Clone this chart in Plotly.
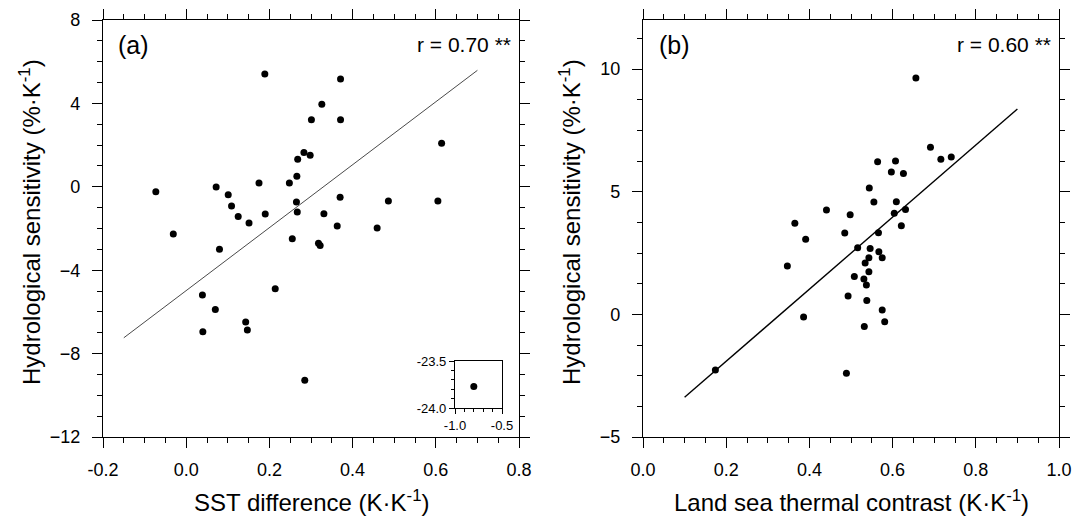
import numpy as np
import plotly.graph_objects as go

# ---------------- data ----------------
# Panel (a): SST difference vs hydrological sensitivity
sst_diff = [0.189, 0.371, 0.326, 0.301, 0.371, 0.614, 0.283, 0.298, 0.268, 0.266,
            -0.073, 0.072, 0.101, 0.175, 0.248, 0.109, 0.125, 0.151, 0.190, 0.265,
            0.267, 0.370, 0.331, 0.363, 0.486, 0.605, 0.459, -0.031, 0.255, 0.318,
            0.322, 0.080, 0.214, 0.039, 0.070, 0.143, 0.040, 0.147, 0.285]
hs_a = [5.41, 5.17, 3.96, 3.22, 3.22, 2.09, 1.65, 1.51, 1.32, 0.51,
        -0.24, -0.01, -0.38, 0.18, 0.18, -0.92, -1.43, -1.74, -1.30, -0.73,
        -1.21, -0.50, -1.29, -1.88, -0.68, -0.68, -1.98, -2.26, -2.49, -2.71,
        -2.82, -3.00, -4.89, -5.19, -5.88, -6.48, -6.95, -6.87, -9.28]
# outlier shown in the inset of panel (a)
outlier_sst = [-0.80]
outlier_hs = [-23.77]

# Panel (b): land sea thermal contrast vs hydrological sensitivity
lstc = [0.656, 0.691, 0.716, 0.741, 0.564, 0.607, 0.597, 0.626, 0.544, 0.555,
        0.609, 0.441, 0.498, 0.604, 0.631, 0.365, 0.485, 0.566, 0.621, 0.391,
        0.516, 0.546, 0.567, 0.543, 0.575, 0.534, 0.347, 0.543, 0.508, 0.531,
        0.537, 0.493, 0.538, 0.575, 0.386, 0.581, 0.532, 0.174, 0.489]
hs_b = [9.64, 6.81, 6.32, 6.41, 6.22, 6.25, 5.80, 5.74, 5.15, 4.58,
        4.59, 4.25, 4.06, 4.12, 4.27, 3.71, 3.32, 3.33, 3.61, 3.06,
        2.72, 2.68, 2.55, 2.31, 2.31, 2.09, 1.97, 1.74, 1.54, 1.44,
        1.20, 0.75, 0.56, 0.18, -0.11, -0.30, -0.50, -2.27, -2.40]

fit_x_a = [-0.15, 0.70]
fit_x_b = [0.10, 0.90]
r_text_a = "r = 0.70 **"
r_text_b = "r = 0.60 **"
panel_a = "(a)"
panel_b = "(b)"

xticks_a = [-0.2, 0.0, 0.2, 0.4, 0.6, 0.8]
xlabels_a = ["-0.2", "0.0", "0.2", "0.4", "0.6", "0.8"]
yticks_a = [-12, -8, -4, 0, 4, 8]
xticks_b = [0.0, 0.2, 0.4, 0.6, 0.8, 1.0]
xlabels_b = ["0.0", "0.2", "0.4", "0.6", "0.8", "1.0"]
yticks_b = [-5, 0, 5, 10]
xticks_in = [-1.0, -0.5]
xlabels_in = ["-1.0", "-0.5"]
yticks_in = [-24.0, -23.5]
ylabels_in = ["-24.0", "-23.5"]

xtitle_a = "SST difference (K·K<sup>-1</sup>)"
xtitle_b = "Land sea thermal contrast (K·K<sup>-1</sup>)"
ytitle = "Hydrological sensitivity (%·K<sup>-1</sup>)"

# regression lines (computed from the data)
coef_a = np.polyfit(np.array(sst_diff + outlier_sst), np.array(hs_a + outlier_hs), 1)
coef_b = np.polyfit(np.array(lstc), np.array(hs_b), 1)
fit_y_a = list(np.polyval(coef_a, fit_x_a))
fit_y_b = list(np.polyval(coef_b, fit_x_b))

# ---------------- figure ----------------
# the page body has an 8 px margin, so the figure is 8 px smaller and
# all screen positions below are given in window pixels
OFF = 8
W, H = 1084 - OFF, 516 - OFF
FONT = "Liberation Sans, Arial, Helvetica, sans-serif"

def px(x):
    return (x - OFF) / W

def py(y):
    return 1 - (y - OFF) / H

fig = go.Figure()
mk = dict(color="black", size=7)
fig.add_trace(go.Scatter(x=sst_diff, y=hs_a, mode="markers", marker=mk,
                         xaxis="x", yaxis="y", showlegend=False))
fig.add_trace(go.Scatter(x=fit_x_a, y=fit_y_a, mode="lines",
                         line=dict(color="#4a4a4a", width=1),
                         xaxis="x", yaxis="y", showlegend=False))
fig.add_trace(go.Scatter(x=lstc, y=hs_b, mode="markers", marker=mk,
                         xaxis="x2", yaxis="y2", showlegend=False))
fig.add_trace(go.Scatter(x=fit_x_b, y=fit_y_b, mode="lines",
                         line=dict(color="black", width=1.4),
                         xaxis="x2", yaxis="y2", showlegend=False))
fig.add_trace(go.Scatter(x=outlier_sst, y=outlier_hs, mode="markers", marker=mk,
                         xaxis="x3", yaxis="y3", showlegend=False))

tickfont = dict(family=FONT, size=18, color="black")
common = dict(showline=True, linecolor="black", linewidth=1.2, mirror="ticks",
              ticks="outside", ticklen=10, tickwidth=1.2, tickcolor="black",
              showgrid=False, zeroline=False, tickfont=tickfont, automargin=False)

inset_font = dict(family=FONT, size=13, color="black")
dom_y = [py(437), py(20)]
fig.update_layout(
    width=W, height=H, autosize=False,
    margin=dict(l=0, r=0, t=0, b=0, pad=0, autoexpand=False),
    paper_bgcolor="white", plot_bgcolor="white",
    font=dict(family=FONT, color="black"),
    xaxis=dict(domain=[px(103), px(519)], range=[-0.2, 0.8], anchor="y",
               tickvals=xticks_a, ticktext=xlabels_a, ticklabelstandoff=6,
               minor=dict(dtick=0.05, tick0=0, ticklen=5, ticks="outside",
                          tickwidth=1, tickcolor="black"), **common),
    yaxis=dict(domain=dom_y, range=[-12, 8], anchor="x",
               tickvals=yticks_a, ticklabelstandoff=8,
               minor=dict(dtick=1, tick0=0, ticklen=5, ticks="outside",
                          tickwidth=1, tickcolor="black"), **common),
    xaxis2=dict(domain=[px(643), px(1059)], range=[0, 1.0], anchor="y2",
                tickvals=xticks_b, ticktext=xlabels_b, ticklabelstandoff=6,
                minor=dict(dtick=0.05, tick0=0, ticklen=5, ticks="outside",
                           tickwidth=1, tickcolor="black"), **common),
    yaxis2=dict(domain=dom_y, range=[-5, 12], anchor="x2",
                tickvals=yticks_b, ticklabelstandoff=8,
                minor=dict(dtick=1.25, tick0=0, ticklen=5, ticks="outside",
                           tickwidth=1, tickcolor="black"), **common),
    xaxis3=dict(domain=[px(455), px(502)], range=[-1.0, -0.5], anchor="y3",
                showline=True, linecolor="black", linewidth=1.2, mirror=True,
                ticks="outside", ticklen=5, tickwidth=1, tickcolor="black",
                tickvals=xticks_in, ticktext=xlabels_in, showgrid=False, zeroline=False,
                tickfont=inset_font, ticklabelstandoff=0, automargin=False,
                minor=dict(dtick=0.1, tick0=0, ticklen=3, ticks="outside",
                           tickwidth=1, tickcolor="black")),
    yaxis3=dict(domain=[py(408), py(361)], range=[-24.0, -23.5], anchor="x3",
                showline=True, linecolor="black", linewidth=1.2, mirror=True,
                ticks="outside", ticklen=5, tickwidth=1, tickcolor="black",
                tickvals=yticks_in, ticktext=ylabels_in, showgrid=False, zeroline=False,
                tickfont=inset_font, ticklabelstandoff=0, automargin=False,
                minor=dict(dtick=0.1, tick0=0, ticklen=3, ticks="outside",
                           tickwidth=1, tickcolor="black")),
)

title_font = dict(family=FONT, size=24, color="black")
ann = [
    dict(x=px(311), y=py(501), text=xtitle_a, xanchor="center", yanchor="middle"),
    dict(x=px(851), y=py(501), text=xtitle_b, xanchor="center", yanchor="middle"),
    dict(x=px(30), y=py(222), text=ytitle, textangle=-90, xanchor="center", yanchor="middle"),
    dict(x=px(570), y=py(222), text=ytitle, textangle=-90, xanchor="center", yanchor="middle"),
]
for a in ann:
    fig.add_annotation(xref="paper", yref="paper", showarrow=False, font=title_font, **a)

fig.add_annotation(xref="paper", yref="paper", x=px(116), y=py(45), text=panel_a,
                   xanchor="left", yanchor="middle", showarrow=False,
                   font=dict(family=FONT, size=25, color="black"))
fig.add_annotation(xref="paper", yref="paper", x=px(513), y=py(45), text=r_text_a,
                   xanchor="right", yanchor="middle", showarrow=False,
                   font=dict(family=FONT, size=21, color="black"))
fig.add_annotation(xref="paper", yref="paper", x=px(657), y=py(45), text=panel_b,
                   xanchor="left", yanchor="middle", showarrow=False,
                   font=dict(family=FONT, size=25, color="black"))
fig.add_annotation(xref="paper", yref="paper", x=px(1053), y=py(45), text=r_text_b,
                   xanchor="right", yanchor="middle", showarrow=False,
                   font=dict(family=FONT, size=21, color="black"))

fig.write_html("out.html")
